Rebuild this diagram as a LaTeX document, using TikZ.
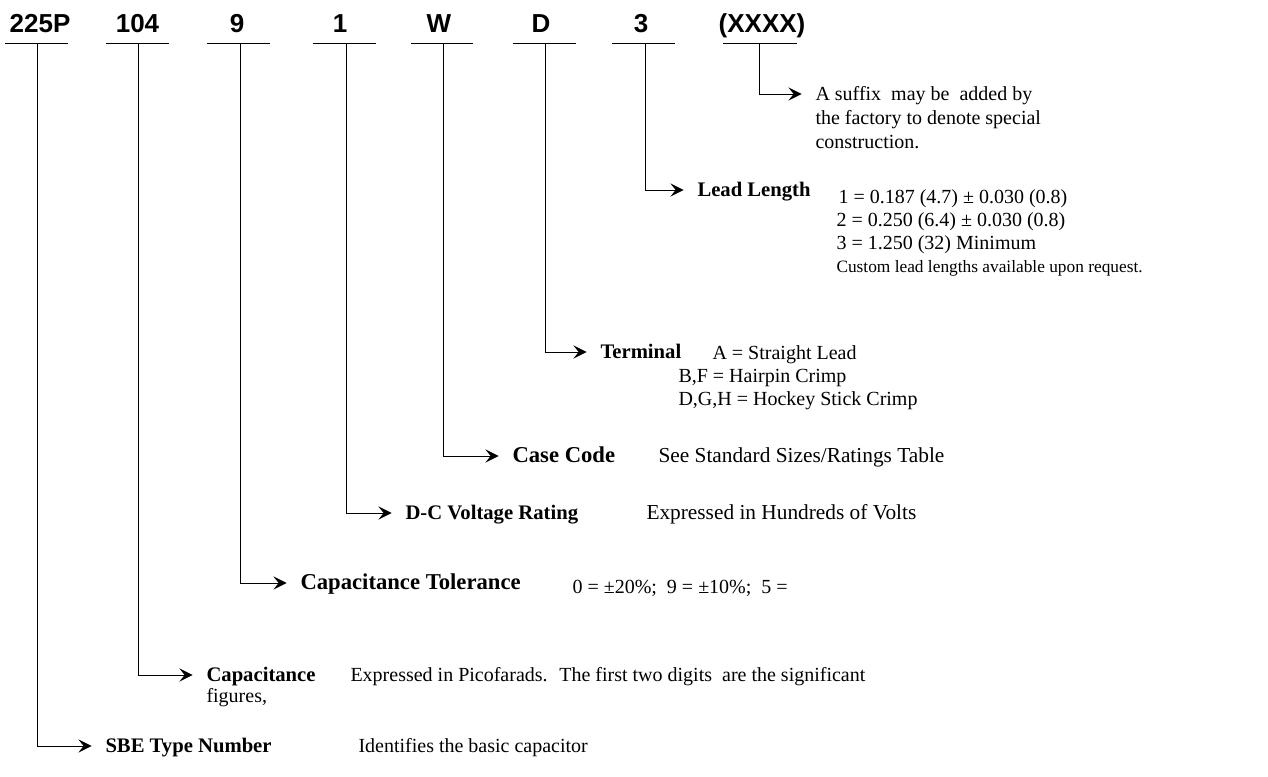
\documentclass[tikz,border=0pt]{standalone}
\usepackage{fontspec}
\setmainfont{Liberation Serif}
\setsansfont{Liberation Sans}
\usetikzlibrary{arrows.meta}

\tikzset{every picture/.style={line width=0.75pt}}
\tikzset{
  code/.style={font=\sffamily\bfseries\fontsize{19.5}{22}\selectfont, anchor=base, inner sep=0pt},
  field/.style={font=\bfseries\fontsize{15.5}{18}\selectfont, anchor=west, inner sep=0pt, text height=10pt, text depth=0pt},
  bigfield/.style={field, font=\bfseries\fontsize{17}{18}\selectfont},
  note/.style={font=\fontsize{15}{18}\selectfont, anchor=west, inner sep=0pt, text height=10pt, text depth=0pt},
  bignote/.style={note, font=\fontsize{16}{18}\selectfont},
  fine/.style={note, font=\fontsize{13}{15}\selectfont},
  lead/.style={-{Stealth[length=10pt,width=10pt,inset=4pt]}, shorten >=10pt},
}

\begin{document}
\begin{tikzpicture}[x=0.75pt,y=0.75pt,yscale=-1,xscale=1]
\useasboundingbox (0,0) rectangle (1268,776);

%Code letters
\node[code] (c225P) at (40,32) {225P};
\node[code] (c104) at (137.5,32) {104};
\node[code] (c9) at (237,32) {9};
\node[code] (c1) at (340,32) {1};
\node[code] (cW) at (439,32) {W};
\node[code] (cD) at (541,32) {D};
\node[code] (c3) at (641,32) {3};
\node[code] (cX) at (762,32) {(XXXX)};

%Underlines
\draw (5,43) -- (68,43) ;
\draw (106,43) -- (169,43) ;
\draw (207,43) -- (270,43) ;
\draw (313,43) -- (376,43) ;
\draw (411,43) -- (473,43) ;
\draw (513,43) -- (576,43) ;
\draw (612,43) -- (675,43) ;
\draw (723,43) -- (797,43) ;
\coordinate (u225P) at (37.5,43);
\coordinate (u104) at (138,43);
\coordinate (u9) at (240,43);
\coordinate (u1) at (346,43);
\coordinate (uW) at (443,43);
\coordinate (uD) at (545,43);
\coordinate (u3) at (645,43);
\coordinate (uX) at (759,43);

%Suffix
\node[note] (suf) at (815,94) {A suffix \ may be \ added by};
\node[note] (suf2) at (815,118) {the factory to denote special};
\node[note] (suf3) at (815,142) {construction.};

%Lead length
\node[field] (leadlen) at (697,190) {Lead Length};
\node[note] (len1) at (838,197) {1 = 0.187 (4.7) ± 0.030 (0.8)};
\node[note] (len2) at (836,220) {2 = 0.250 (6.4) ± 0.030 (0.8)};
\node[note] (len3) at (836,243) {3 = 1.250 (32) Minimum};
\node[fine] (len4) at (836,266) {Custom lead lengths available upon request.};

%Terminal
\node[field] (term) at (600,352) {Terminal};
\node[note] (term1) at (712,353) {A = Straight Lead};
\node[note] (term2) at (678,376) {B,F = Hairpin Crimp};
\node[note] (term3) at (678,399) {D,G,H = Hockey Stick Crimp};

%Case code
\node[bigfield] (case) at (512,456) {Case Code};
\node[bignote] (case1) at (658,456) {See Standard Sizes/Ratings Table};

%Voltage
\node[field] (volt) at (405,513) {D-C Voltage Rating};
\node[bignote] (volt1) at (646,513) {Expressed in Hundreds of Volts};

%Tolerance
\node[bigfield] (tol) at (300,583) {Capacitance Tolerance};
\node[note] (tol1) at (572,587) {0 = ±20\%; \ 9 = ±10\%; \ 5 =};

%Capacitance
\node[field] (cap) at (206,675) {Capacitance};
\node[note] (cap1) at (350,675) {Expressed in Picofarads. \ The first two digits \ are the significant};
\node[note] (cap2) at (206,696) {figures,};

%Type number
\node[field] (sbe) at (105,746) {SBE Type Number};
\node[note] (sbe1) at (358,746) {Identifies the basic capacitor};

%Leaders
\draw[lead] (uX) |- (suf.west) ;
\draw[lead] (u3) |- (leadlen.west) ;
\draw[lead] (uD) |- (term.west) ;
\draw[lead] (uW) |- (case.west) ;
\draw[lead] (u1) |- (volt.west) ;
\draw[lead] (u9) |- (tol.west) ;
\draw[lead] (u104) |- (cap.west) ;
\draw[lead] (u225P) |- (sbe.west) ;

\end{tikzpicture}
\end{document}
